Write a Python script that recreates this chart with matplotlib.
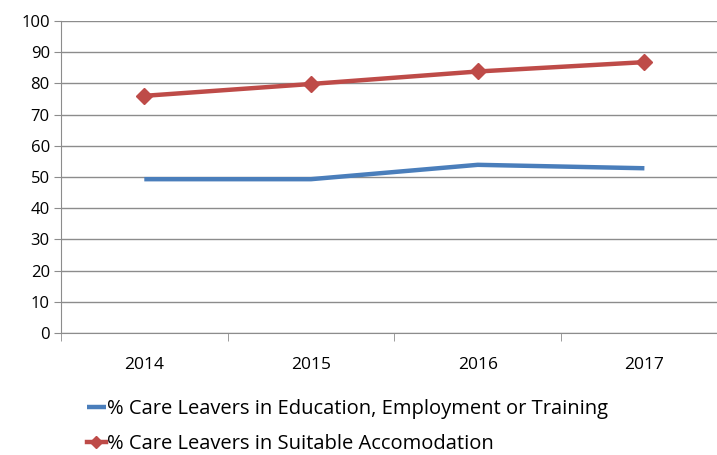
import matplotlib

matplotlib.use("Agg")
import matplotlib.pyplot as plt
import numpy as np

years = ["2014", "2015", "2016", "2017"]
eet_pct = [49.3, 49.3, 53.9, 52.8]
accom_pct = [76.0, 79.8, 83.8, 86.8]
y_ticks = list(range(0, 101, 10))

plt.rcParams["font.family"] = ["Open Sans", "DejaVu Sans"]

fig = plt.figure(figsize=(7.17, 4.55), dpi=100)
ax = fig.add_axes([0.085, 0.268, 0.93, 0.686])

x = np.arange(len(years))
ax.plot(x, eet_pct, color="#4A7EBB", linewidth=3.2, solid_capstyle="butt",
        label="% Care Leavers in Education, Employment or Training")
ax.plot(x, accom_pct, color="#BE4B48", linewidth=3.2, marker="D",
        markersize=8, label="% Care Leavers in Suitable Accomodation")

ax.set_xlim(-0.5, len(years) - 0.5)
ax.set_ylim(0, 100)
ax.set_yticks(y_ticks)
ax.set_xticks(x)
ax.set_xticklabels(years)
ax.set_xticks(np.arange(-0.5, len(years), 1), minor=True)

ax.grid(axis="y", color="#8c8c8c", linewidth=1)
ax.set_axisbelow(True)
for s in ["top", "right"]:
    ax.spines[s].set_visible(False)
for s in ["left", "bottom"]:
    ax.spines[s].set_color("#8c8c8c")
ax.tick_params(axis="x", which="major", length=0, pad=17, labelsize=12.5)
ax.tick_params(axis="x", which="minor", length=6, color="#8c8c8c", direction="out")
ax.tick_params(axis="y", length=5, color="#8c8c8c", labelsize=12, pad=3)

fig.legend(loc="upper left", bbox_to_anchor=(0.121, 0.124), frameon=False,
           fontsize=14.5, handlelength=0.95, handletextpad=0.05, labelspacing=0.75,
           markerscale=0.8, borderaxespad=0, borderpad=0,
           bbox_transform=fig.transFigure)

fig.savefig("out.png", dpi=100)
